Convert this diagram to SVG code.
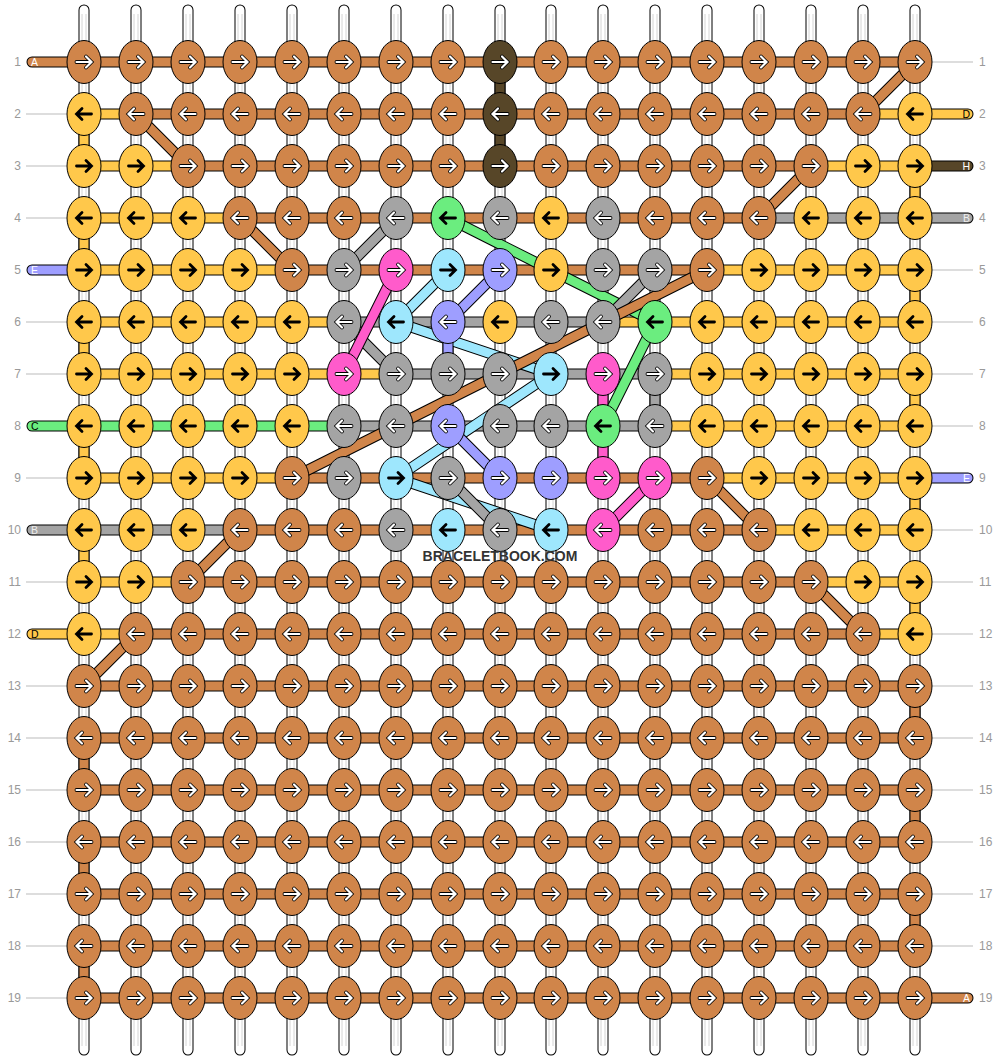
<svg xmlns="http://www.w3.org/2000/svg" xmlns:xlink="http://www.w3.org/1999/xlink" width="1000" height="1060" viewBox="0 0 1000 1060">
<style>
.o{fill:none;stroke:#000;stroke-width:11;stroke-linecap:round;stroke-linejoin:round}
.s{fill:none;stroke-width:9;stroke-linecap:round;stroke-linejoin:round}
.sA{stroke:#d0854a}.sD{stroke:#ffc84b}.sH{stroke:#574628}.sB{stroke:#a4a4a4}.sE{stroke:#9e9eff}.sC{stroke:#6bed7f}.sF{stroke:#ff5bcb}.sG{stroke:#9ee7fd}
.kA{fill:#d0854a}.kD{fill:#ffc84b}.kH{fill:#574628}.kB{fill:#a4a4a4}.kE{fill:#9e9eff}.kC{fill:#6bed7f}.kF{fill:#ff5bcb}.kG{fill:#9ee7fd}
ellipse{stroke:#000;stroke-width:1}
.ll{stroke:#bbb;stroke-width:1}
.rn{font-family:"Liberation Sans",Arial,sans-serif;font-size:12px;fill:#999}
.sl{font-family:"Liberation Sans",Arial,sans-serif;font-size:10.5px}
</style>
<defs>
<path id="ar" d="M-7.5 0H7M2 -5.5L7.5 0L2 5.5"/>
<path id="al" d="M7.5 0H-7M-2 -5.5L-7.5 0L-2 5.5"/>
<g id="rw" fill="none" stroke-linecap="round" stroke-linejoin="miter"><use href="#ar" stroke="#000" stroke-width="3.8"/><use href="#ar" stroke="#fff" stroke-width="2.2"/></g>
<g id="lw" fill="none" stroke-linecap="round" stroke-linejoin="miter"><use href="#al" stroke="#000" stroke-width="3.8"/><use href="#al" stroke="#fff" stroke-width="2.2"/></g>
<g id="rb" fill="none" stroke-linecap="round"><use href="#ar" stroke="#000" stroke-width="2.8"/></g>
<g id="lb" fill="none" stroke-linecap="round"><use href="#al" stroke="#000" stroke-width="2.8"/></g>
<g id="Ar"><ellipse class="kA" rx="17" ry="21.5"/><use href="#rw"/></g>
<g id="Al"><ellipse class="kA" rx="17" ry="21.5"/><use href="#lw"/></g>
<g id="Dr"><ellipse class="kD" rx="17" ry="21.5"/><use href="#rb"/></g>
<g id="Dl"><ellipse class="kD" rx="17" ry="21.5"/><use href="#lb"/></g>
<g id="Hr"><ellipse class="kH" rx="17" ry="21.5"/><use href="#rw"/></g>
<g id="Hl"><ellipse class="kH" rx="17" ry="21.5"/><use href="#lw"/></g>
<g id="Br"><ellipse class="kB" rx="17" ry="21.5"/><use href="#rw"/></g>
<g id="Bl"><ellipse class="kB" rx="17" ry="21.5"/><use href="#lw"/></g>
<g id="Er"><ellipse class="kE" rx="17" ry="21.5"/><use href="#rw"/></g>
<g id="El"><ellipse class="kE" rx="17" ry="21.5"/><use href="#lw"/></g>
<g id="Cl"><ellipse class="kC" rx="17" ry="21.5"/><use href="#lb"/></g>
<g id="Fr"><ellipse class="kF" rx="17" ry="21.5"/><use href="#rw"/></g>
<g id="Fl"><ellipse class="kF" rx="17" ry="21.5"/><use href="#lw"/></g>
<g id="Gr"><ellipse class="kG" rx="17" ry="21.5"/><use href="#rb"/></g>
<g id="Gl"><ellipse class="kG" rx="17" ry="21.5"/><use href="#lb"/></g>
<path id="hA" d="M32 62H915M136 114H863M188 166H811M240 218H759M292 270H707M292 478H707M240 530H759M188 582H811M136 634H863M84 686H915M84 738H915M84 790H915M84 842H915M84 894H915M84 946H915M84 998H968M915 686V738M84 738V790M915 790V842M84 842V894M915 894V946M84 946V998"/>
<path id="hD" d="M84 114H136M863 114H968M84 166H188M811 166H915M84 218H240M84 270H292M707 270H915M84 322H344M603 322H915M84 374H396M655 374H915M655 426H915M84 478H292M707 478H915M759 530H915M84 582H188M811 582H915M32 634H136M863 634H915M84 114V166M84 218V270M84 322V374M84 426V478M84 530V582M915 166V218M915 270V322M915 374V426M915 478V530M915 582V634"/>
<path id="hB" d="M759 218H968M344 322H603M396 374H655M344 426H655M32 530H240M655 374V426"/>
<path id="hC" d="M32 426H344"/>
<path id="hE" d="M32 270H84M915 478H968"/>
<path id="hH" d="M915 166H968M500 62V166"/>
<path id="hF" d="M603 374V478"/>
<path id="dG" d="M448 270L396 322M396 322L551 374L396 478L551 530"/>
<path id="dE" d="M500 270L448 322V374M448 426L500 478"/>
<path id="dC" d="M448 218L551 270L655 322L603 426"/>
<path id="dB" d="M396 218L344 270M655 270L603 322M344 322L396 374M448 478L500 530"/>
<path id="dF" d="M396 270L344 374M655 478L603 530"/>
<path id="dA" d="M915 62L863 114M136 114L188 166M811 166L759 218M240 218L292 270M707 270L292 478M707 478L759 530M240 530L188 582M811 582L863 634M136 634L84 686"/>
</defs>
<rect width="1000" height="1060" fill="#fff"/>
<g id="warps">
<path d="M84 10V1050M136 10V1050M188 10V1050M240 10V1050M292 10V1050M344 10V1050M396 10V1050M448 10V1050M500 10V1050M551 10V1050M603 10V1050M655 10V1050M707 10V1050M759 10V1050M811 10V1050M863 10V1050M915 10V1050" stroke="#000" stroke-width="11" stroke-linecap="round" fill="none"/>
<path d="M84 10V1050M136 10V1050M188 10V1050M240 10V1050M292 10V1050M344 10V1050M396 10V1050M448 10V1050M500 10V1050M551 10V1050M603 10V1050M655 10V1050M707 10V1050M759 10V1050M811 10V1050M863 10V1050M915 10V1050" stroke="#fff" stroke-width="9" stroke-linecap="round" fill="none"/>
<path d="M82 14V1046M86 14V1046M134 14V1046M138 14V1046M186 14V1046M190 14V1046M238 14V1046M242 14V1046M290 14V1046M294 14V1046M342 14V1046M346 14V1046M394 14V1046M398 14V1046M446 14V1046M450 14V1046M498 14V1046M502 14V1046M549 14V1046M553 14V1046M601 14V1046M605 14V1046M653 14V1046M657 14V1046M705 14V1046M709 14V1046M757 14V1046M761 14V1046M809 14V1046M813 14V1046M861 14V1046M865 14V1046M913 14V1046M917 14V1046" stroke="#d4d4d4" stroke-width="1" fill="none"/>
</g>
<g id="label-lines" class="ll">
<path d="M26 114H67M26 166H67M26 218H67M26 322H67M26 374H67M26 478H67M26 582H67M26 686H67M26 738H67M26 790H67M26 842H67M26 894H67M26 946H67M26 998H67M932 62H973M932 270H973M932 322H973M932 374H973M932 426H973M932 530H973M932 582H973M932 634H973M932 686H973M932 738H973M932 790H973M932 842H973M932 894H973M932 946H973"/>
</g>
<g id="connectors">
<use href="#hA" class="o"/><use href="#hD" class="o"/><use href="#hB" class="o"/><use href="#hC" class="o"/><use href="#hE" class="o"/><use href="#hH" class="o"/><use href="#hF" class="o"/>
<use href="#hA" class="s sA"/><use href="#hD" class="s sD"/><use href="#hB" class="s sB"/><use href="#hC" class="s sC"/><use href="#hE" class="s sE"/><use href="#hH" class="s sH"/><use href="#hF" class="s sF"/>
<use href="#dG" class="o"/><use href="#dG" class="s sG"/>
<use href="#dE" class="o"/><use href="#dE" class="s sE"/>
<use href="#dC" class="o"/><use href="#dC" class="s sC"/>
<use href="#dB" class="o"/><use href="#dB" class="s sB"/>
<use href="#dF" class="o"/><use href="#dF" class="s sF"/>
<use href="#dA" class="o"/><use href="#dA" class="s sA"/>
</g>
<g id="nodes">
<g id="n1-1"><use href="#Ar" x="84" y="62"/></g><g id="n1-2"><use href="#Ar" x="136" y="62"/></g><g id="n1-3"><use href="#Ar" x="188" y="62"/></g><g id="n1-4"><use href="#Ar" x="240" y="62"/></g><g id="n1-5"><use href="#Ar" x="292" y="62"/></g><g id="n1-6"><use href="#Ar" x="344" y="62"/></g><g id="n1-7"><use href="#Ar" x="396" y="62"/></g><g id="n1-8"><use href="#Ar" x="448" y="62"/></g><g id="n1-9"><use href="#Hr" x="500" y="62"/></g><g id="n1-10"><use href="#Ar" x="551" y="62"/></g><g id="n1-11"><use href="#Ar" x="603" y="62"/></g><g id="n1-12"><use href="#Ar" x="655" y="62"/></g><g id="n1-13"><use href="#Ar" x="707" y="62"/></g><g id="n1-14"><use href="#Ar" x="759" y="62"/></g><g id="n1-15"><use href="#Ar" x="811" y="62"/></g><g id="n1-16"><use href="#Ar" x="863" y="62"/></g><g id="n1-17"><use href="#Ar" x="915" y="62"/></g>
<g id="n2-1"><use href="#Dl" x="84" y="114"/></g><g id="n2-2"><use href="#Al" x="136" y="114"/></g><g id="n2-3"><use href="#Al" x="188" y="114"/></g><g id="n2-4"><use href="#Al" x="240" y="114"/></g><g id="n2-5"><use href="#Al" x="292" y="114"/></g><g id="n2-6"><use href="#Al" x="344" y="114"/></g><g id="n2-7"><use href="#Al" x="396" y="114"/></g><g id="n2-8"><use href="#Al" x="448" y="114"/></g><g id="n2-9"><use href="#Hl" x="500" y="114"/></g><g id="n2-10"><use href="#Al" x="551" y="114"/></g><g id="n2-11"><use href="#Al" x="603" y="114"/></g><g id="n2-12"><use href="#Al" x="655" y="114"/></g><g id="n2-13"><use href="#Al" x="707" y="114"/></g><g id="n2-14"><use href="#Al" x="759" y="114"/></g><g id="n2-15"><use href="#Al" x="811" y="114"/></g><g id="n2-16"><use href="#Al" x="863" y="114"/></g><g id="n2-17"><use href="#Dl" x="915" y="114"/></g>
<g id="n3-1"><use href="#Dr" x="84" y="166"/></g><g id="n3-2"><use href="#Dr" x="136" y="166"/></g><g id="n3-3"><use href="#Ar" x="188" y="166"/></g><g id="n3-4"><use href="#Ar" x="240" y="166"/></g><g id="n3-5"><use href="#Ar" x="292" y="166"/></g><g id="n3-6"><use href="#Ar" x="344" y="166"/></g><g id="n3-7"><use href="#Ar" x="396" y="166"/></g><g id="n3-8"><use href="#Ar" x="448" y="166"/></g><g id="n3-9"><use href="#Hr" x="500" y="166"/></g><g id="n3-10"><use href="#Ar" x="551" y="166"/></g><g id="n3-11"><use href="#Ar" x="603" y="166"/></g><g id="n3-12"><use href="#Ar" x="655" y="166"/></g><g id="n3-13"><use href="#Ar" x="707" y="166"/></g><g id="n3-14"><use href="#Ar" x="759" y="166"/></g><g id="n3-15"><use href="#Ar" x="811" y="166"/></g><g id="n3-16"><use href="#Dr" x="863" y="166"/></g><g id="n3-17"><use href="#Dr" x="915" y="166"/></g>
<g id="n4-1"><use href="#Dl" x="84" y="218"/></g><g id="n4-2"><use href="#Dl" x="136" y="218"/></g><g id="n4-3"><use href="#Dl" x="188" y="218"/></g><g id="n4-4"><use href="#Al" x="240" y="218"/></g><g id="n4-5"><use href="#Al" x="292" y="218"/></g><g id="n4-6"><use href="#Al" x="344" y="218"/></g><g id="n4-7"><use href="#Bl" x="396" y="218"/></g><g id="n4-8"><use href="#Cl" x="448" y="218"/></g><g id="n4-9"><use href="#Bl" x="500" y="218"/></g><g id="n4-10"><use href="#Dl" x="551" y="218"/></g><g id="n4-11"><use href="#Bl" x="603" y="218"/></g><g id="n4-12"><use href="#Al" x="655" y="218"/></g><g id="n4-13"><use href="#Al" x="707" y="218"/></g><g id="n4-14"><use href="#Al" x="759" y="218"/></g><g id="n4-15"><use href="#Dl" x="811" y="218"/></g><g id="n4-16"><use href="#Dl" x="863" y="218"/></g><g id="n4-17"><use href="#Dl" x="915" y="218"/></g>
<g id="n5-1"><use href="#Dr" x="84" y="270"/></g><g id="n5-2"><use href="#Dr" x="136" y="270"/></g><g id="n5-3"><use href="#Dr" x="188" y="270"/></g><g id="n5-4"><use href="#Dr" x="240" y="270"/></g><g id="n5-5"><use href="#Ar" x="292" y="270"/></g><g id="n5-6"><use href="#Br" x="344" y="270"/></g><g id="n5-7"><use href="#Fr" x="396" y="270"/></g><g id="n5-8"><use href="#Gr" x="448" y="270"/></g><g id="n5-9"><use href="#Er" x="500" y="270"/></g><g id="n5-10"><use href="#Dr" x="551" y="270"/></g><g id="n5-11"><use href="#Br" x="603" y="270"/></g><g id="n5-12"><use href="#Br" x="655" y="270"/></g><g id="n5-13"><use href="#Ar" x="707" y="270"/></g><g id="n5-14"><use href="#Dr" x="759" y="270"/></g><g id="n5-15"><use href="#Dr" x="811" y="270"/></g><g id="n5-16"><use href="#Dr" x="863" y="270"/></g><g id="n5-17"><use href="#Dr" x="915" y="270"/></g>
<g id="n6-1"><use href="#Dl" x="84" y="322"/></g><g id="n6-2"><use href="#Dl" x="136" y="322"/></g><g id="n6-3"><use href="#Dl" x="188" y="322"/></g><g id="n6-4"><use href="#Dl" x="240" y="322"/></g><g id="n6-5"><use href="#Dl" x="292" y="322"/></g><g id="n6-6"><use href="#Bl" x="344" y="322"/></g><g id="n6-7"><use href="#Gl" x="396" y="322"/></g><g id="n6-8"><use href="#El" x="448" y="322"/></g><g id="n6-9"><use href="#Dl" x="500" y="322"/></g><g id="n6-10"><use href="#Bl" x="551" y="322"/></g><g id="n6-11"><use href="#Bl" x="603" y="322"/></g><g id="n6-12"><use href="#Cl" x="655" y="322"/></g><g id="n6-13"><use href="#Dl" x="707" y="322"/></g><g id="n6-14"><use href="#Dl" x="759" y="322"/></g><g id="n6-15"><use href="#Dl" x="811" y="322"/></g><g id="n6-16"><use href="#Dl" x="863" y="322"/></g><g id="n6-17"><use href="#Dl" x="915" y="322"/></g>
<g id="n7-1"><use href="#Dr" x="84" y="374"/></g><g id="n7-2"><use href="#Dr" x="136" y="374"/></g><g id="n7-3"><use href="#Dr" x="188" y="374"/></g><g id="n7-4"><use href="#Dr" x="240" y="374"/></g><g id="n7-5"><use href="#Dr" x="292" y="374"/></g><g id="n7-6"><use href="#Fr" x="344" y="374"/></g><g id="n7-7"><use href="#Br" x="396" y="374"/></g><g id="n7-8"><use href="#Br" x="448" y="374"/></g><g id="n7-9"><use href="#Br" x="500" y="374"/></g><g id="n7-10"><use href="#Gr" x="551" y="374"/></g><g id="n7-11"><use href="#Fr" x="603" y="374"/></g><g id="n7-12"><use href="#Br" x="655" y="374"/></g><g id="n7-13"><use href="#Dr" x="707" y="374"/></g><g id="n7-14"><use href="#Dr" x="759" y="374"/></g><g id="n7-15"><use href="#Dr" x="811" y="374"/></g><g id="n7-16"><use href="#Dr" x="863" y="374"/></g><g id="n7-17"><use href="#Dr" x="915" y="374"/></g>
<g id="n8-1"><use href="#Dl" x="84" y="426"/></g><g id="n8-2"><use href="#Dl" x="136" y="426"/></g><g id="n8-3"><use href="#Dl" x="188" y="426"/></g><g id="n8-4"><use href="#Dl" x="240" y="426"/></g><g id="n8-5"><use href="#Dl" x="292" y="426"/></g><g id="n8-6"><use href="#Bl" x="344" y="426"/></g><g id="n8-7"><use href="#Bl" x="396" y="426"/></g><g id="n8-8"><use href="#El" x="448" y="426"/></g><g id="n8-9"><use href="#Bl" x="500" y="426"/></g><g id="n8-10"><use href="#Bl" x="551" y="426"/></g><g id="n8-11"><use href="#Cl" x="603" y="426"/></g><g id="n8-12"><use href="#Bl" x="655" y="426"/></g><g id="n8-13"><use href="#Dl" x="707" y="426"/></g><g id="n8-14"><use href="#Dl" x="759" y="426"/></g><g id="n8-15"><use href="#Dl" x="811" y="426"/></g><g id="n8-16"><use href="#Dl" x="863" y="426"/></g><g id="n8-17"><use href="#Dl" x="915" y="426"/></g>
<g id="n9-1"><use href="#Dr" x="84" y="478"/></g><g id="n9-2"><use href="#Dr" x="136" y="478"/></g><g id="n9-3"><use href="#Dr" x="188" y="478"/></g><g id="n9-4"><use href="#Dr" x="240" y="478"/></g><g id="n9-5"><use href="#Ar" x="292" y="478"/></g><g id="n9-6"><use href="#Br" x="344" y="478"/></g><g id="n9-7"><use href="#Gr" x="396" y="478"/></g><g id="n9-8"><use href="#Br" x="448" y="478"/></g><g id="n9-9"><use href="#Er" x="500" y="478"/></g><g id="n9-10"><use href="#Er" x="551" y="478"/></g><g id="n9-11"><use href="#Fr" x="603" y="478"/></g><g id="n9-12"><use href="#Fr" x="655" y="478"/></g><g id="n9-13"><use href="#Ar" x="707" y="478"/></g><g id="n9-14"><use href="#Dr" x="759" y="478"/></g><g id="n9-15"><use href="#Dr" x="811" y="478"/></g><g id="n9-16"><use href="#Dr" x="863" y="478"/></g><g id="n9-17"><use href="#Dr" x="915" y="478"/></g>
<g id="n10-1"><use href="#Dl" x="84" y="530"/></g><g id="n10-2"><use href="#Dl" x="136" y="530"/></g><g id="n10-3"><use href="#Dl" x="188" y="530"/></g><g id="n10-4"><use href="#Al" x="240" y="530"/></g><g id="n10-5"><use href="#Al" x="292" y="530"/></g><g id="n10-6"><use href="#Al" x="344" y="530"/></g><g id="n10-7"><use href="#Bl" x="396" y="530"/></g><g id="n10-8"><use href="#Gl" x="448" y="530"/></g><g id="n10-9"><use href="#Bl" x="500" y="530"/></g><g id="n10-10"><use href="#Gl" x="551" y="530"/></g><g id="n10-11"><use href="#Fl" x="603" y="530"/></g><g id="n10-12"><use href="#Al" x="655" y="530"/></g><g id="n10-13"><use href="#Al" x="707" y="530"/></g><g id="n10-14"><use href="#Al" x="759" y="530"/></g><g id="n10-15"><use href="#Dl" x="811" y="530"/></g><g id="n10-16"><use href="#Dl" x="863" y="530"/></g><g id="n10-17"><use href="#Dl" x="915" y="530"/></g>
<g id="n11-1"><use href="#Dr" x="84" y="582"/></g><g id="n11-2"><use href="#Dr" x="136" y="582"/></g><g id="n11-3"><use href="#Ar" x="188" y="582"/></g><g id="n11-4"><use href="#Ar" x="240" y="582"/></g><g id="n11-5"><use href="#Ar" x="292" y="582"/></g><g id="n11-6"><use href="#Ar" x="344" y="582"/></g><g id="n11-7"><use href="#Ar" x="396" y="582"/></g><g id="n11-8"><use href="#Ar" x="448" y="582"/></g><g id="n11-9"><use href="#Ar" x="500" y="582"/></g><g id="n11-10"><use href="#Ar" x="551" y="582"/></g><g id="n11-11"><use href="#Ar" x="603" y="582"/></g><g id="n11-12"><use href="#Ar" x="655" y="582"/></g><g id="n11-13"><use href="#Ar" x="707" y="582"/></g><g id="n11-14"><use href="#Ar" x="759" y="582"/></g><g id="n11-15"><use href="#Ar" x="811" y="582"/></g><g id="n11-16"><use href="#Dr" x="863" y="582"/></g><g id="n11-17"><use href="#Dr" x="915" y="582"/></g>
<g id="n12-1"><use href="#Dl" x="84" y="634"/></g><g id="n12-2"><use href="#Al" x="136" y="634"/></g><g id="n12-3"><use href="#Al" x="188" y="634"/></g><g id="n12-4"><use href="#Al" x="240" y="634"/></g><g id="n12-5"><use href="#Al" x="292" y="634"/></g><g id="n12-6"><use href="#Al" x="344" y="634"/></g><g id="n12-7"><use href="#Al" x="396" y="634"/></g><g id="n12-8"><use href="#Al" x="448" y="634"/></g><g id="n12-9"><use href="#Al" x="500" y="634"/></g><g id="n12-10"><use href="#Al" x="551" y="634"/></g><g id="n12-11"><use href="#Al" x="603" y="634"/></g><g id="n12-12"><use href="#Al" x="655" y="634"/></g><g id="n12-13"><use href="#Al" x="707" y="634"/></g><g id="n12-14"><use href="#Al" x="759" y="634"/></g><g id="n12-15"><use href="#Al" x="811" y="634"/></g><g id="n12-16"><use href="#Al" x="863" y="634"/></g><g id="n12-17"><use href="#Dl" x="915" y="634"/></g>
<g id="n13-1"><use href="#Ar" x="84" y="686"/></g><g id="n13-2"><use href="#Ar" x="136" y="686"/></g><g id="n13-3"><use href="#Ar" x="188" y="686"/></g><g id="n13-4"><use href="#Ar" x="240" y="686"/></g><g id="n13-5"><use href="#Ar" x="292" y="686"/></g><g id="n13-6"><use href="#Ar" x="344" y="686"/></g><g id="n13-7"><use href="#Ar" x="396" y="686"/></g><g id="n13-8"><use href="#Ar" x="448" y="686"/></g><g id="n13-9"><use href="#Ar" x="500" y="686"/></g><g id="n13-10"><use href="#Ar" x="551" y="686"/></g><g id="n13-11"><use href="#Ar" x="603" y="686"/></g><g id="n13-12"><use href="#Ar" x="655" y="686"/></g><g id="n13-13"><use href="#Ar" x="707" y="686"/></g><g id="n13-14"><use href="#Ar" x="759" y="686"/></g><g id="n13-15"><use href="#Ar" x="811" y="686"/></g><g id="n13-16"><use href="#Ar" x="863" y="686"/></g><g id="n13-17"><use href="#Ar" x="915" y="686"/></g>
<g id="n14-1"><use href="#Al" x="84" y="738"/></g><g id="n14-2"><use href="#Al" x="136" y="738"/></g><g id="n14-3"><use href="#Al" x="188" y="738"/></g><g id="n14-4"><use href="#Al" x="240" y="738"/></g><g id="n14-5"><use href="#Al" x="292" y="738"/></g><g id="n14-6"><use href="#Al" x="344" y="738"/></g><g id="n14-7"><use href="#Al" x="396" y="738"/></g><g id="n14-8"><use href="#Al" x="448" y="738"/></g><g id="n14-9"><use href="#Al" x="500" y="738"/></g><g id="n14-10"><use href="#Al" x="551" y="738"/></g><g id="n14-11"><use href="#Al" x="603" y="738"/></g><g id="n14-12"><use href="#Al" x="655" y="738"/></g><g id="n14-13"><use href="#Al" x="707" y="738"/></g><g id="n14-14"><use href="#Al" x="759" y="738"/></g><g id="n14-15"><use href="#Al" x="811" y="738"/></g><g id="n14-16"><use href="#Al" x="863" y="738"/></g><g id="n14-17"><use href="#Al" x="915" y="738"/></g>
<g id="n15-1"><use href="#Ar" x="84" y="790"/></g><g id="n15-2"><use href="#Ar" x="136" y="790"/></g><g id="n15-3"><use href="#Ar" x="188" y="790"/></g><g id="n15-4"><use href="#Ar" x="240" y="790"/></g><g id="n15-5"><use href="#Ar" x="292" y="790"/></g><g id="n15-6"><use href="#Ar" x="344" y="790"/></g><g id="n15-7"><use href="#Ar" x="396" y="790"/></g><g id="n15-8"><use href="#Ar" x="448" y="790"/></g><g id="n15-9"><use href="#Ar" x="500" y="790"/></g><g id="n15-10"><use href="#Ar" x="551" y="790"/></g><g id="n15-11"><use href="#Ar" x="603" y="790"/></g><g id="n15-12"><use href="#Ar" x="655" y="790"/></g><g id="n15-13"><use href="#Ar" x="707" y="790"/></g><g id="n15-14"><use href="#Ar" x="759" y="790"/></g><g id="n15-15"><use href="#Ar" x="811" y="790"/></g><g id="n15-16"><use href="#Ar" x="863" y="790"/></g><g id="n15-17"><use href="#Ar" x="915" y="790"/></g>
<g id="n16-1"><use href="#Al" x="84" y="842"/></g><g id="n16-2"><use href="#Al" x="136" y="842"/></g><g id="n16-3"><use href="#Al" x="188" y="842"/></g><g id="n16-4"><use href="#Al" x="240" y="842"/></g><g id="n16-5"><use href="#Al" x="292" y="842"/></g><g id="n16-6"><use href="#Al" x="344" y="842"/></g><g id="n16-7"><use href="#Al" x="396" y="842"/></g><g id="n16-8"><use href="#Al" x="448" y="842"/></g><g id="n16-9"><use href="#Al" x="500" y="842"/></g><g id="n16-10"><use href="#Al" x="551" y="842"/></g><g id="n16-11"><use href="#Al" x="603" y="842"/></g><g id="n16-12"><use href="#Al" x="655" y="842"/></g><g id="n16-13"><use href="#Al" x="707" y="842"/></g><g id="n16-14"><use href="#Al" x="759" y="842"/></g><g id="n16-15"><use href="#Al" x="811" y="842"/></g><g id="n16-16"><use href="#Al" x="863" y="842"/></g><g id="n16-17"><use href="#Al" x="915" y="842"/></g>
<g id="n17-1"><use href="#Ar" x="84" y="894"/></g><g id="n17-2"><use href="#Ar" x="136" y="894"/></g><g id="n17-3"><use href="#Ar" x="188" y="894"/></g><g id="n17-4"><use href="#Ar" x="240" y="894"/></g><g id="n17-5"><use href="#Ar" x="292" y="894"/></g><g id="n17-6"><use href="#Ar" x="344" y="894"/></g><g id="n17-7"><use href="#Ar" x="396" y="894"/></g><g id="n17-8"><use href="#Ar" x="448" y="894"/></g><g id="n17-9"><use href="#Ar" x="500" y="894"/></g><g id="n17-10"><use href="#Ar" x="551" y="894"/></g><g id="n17-11"><use href="#Ar" x="603" y="894"/></g><g id="n17-12"><use href="#Ar" x="655" y="894"/></g><g id="n17-13"><use href="#Ar" x="707" y="894"/></g><g id="n17-14"><use href="#Ar" x="759" y="894"/></g><g id="n17-15"><use href="#Ar" x="811" y="894"/></g><g id="n17-16"><use href="#Ar" x="863" y="894"/></g><g id="n17-17"><use href="#Ar" x="915" y="894"/></g>
<g id="n18-1"><use href="#Al" x="84" y="946"/></g><g id="n18-2"><use href="#Al" x="136" y="946"/></g><g id="n18-3"><use href="#Al" x="188" y="946"/></g><g id="n18-4"><use href="#Al" x="240" y="946"/></g><g id="n18-5"><use href="#Al" x="292" y="946"/></g><g id="n18-6"><use href="#Al" x="344" y="946"/></g><g id="n18-7"><use href="#Al" x="396" y="946"/></g><g id="n18-8"><use href="#Al" x="448" y="946"/></g><g id="n18-9"><use href="#Al" x="500" y="946"/></g><g id="n18-10"><use href="#Al" x="551" y="946"/></g><g id="n18-11"><use href="#Al" x="603" y="946"/></g><g id="n18-12"><use href="#Al" x="655" y="946"/></g><g id="n18-13"><use href="#Al" x="707" y="946"/></g><g id="n18-14"><use href="#Al" x="759" y="946"/></g><g id="n18-15"><use href="#Al" x="811" y="946"/></g><g id="n18-16"><use href="#Al" x="863" y="946"/></g><g id="n18-17"><use href="#Al" x="915" y="946"/></g>
<g id="n19-1"><use href="#Ar" x="84" y="998"/></g><g id="n19-2"><use href="#Ar" x="136" y="998"/></g><g id="n19-3"><use href="#Ar" x="188" y="998"/></g><g id="n19-4"><use href="#Ar" x="240" y="998"/></g><g id="n19-5"><use href="#Ar" x="292" y="998"/></g><g id="n19-6"><use href="#Ar" x="344" y="998"/></g><g id="n19-7"><use href="#Ar" x="396" y="998"/></g><g id="n19-8"><use href="#Ar" x="448" y="998"/></g><g id="n19-9"><use href="#Ar" x="500" y="998"/></g><g id="n19-10"><use href="#Ar" x="551" y="998"/></g><g id="n19-11"><use href="#Ar" x="603" y="998"/></g><g id="n19-12"><use href="#Ar" x="655" y="998"/></g><g id="n19-13"><use href="#Ar" x="707" y="998"/></g><g id="n19-14"><use href="#Ar" x="759" y="998"/></g><g id="n19-15"><use href="#Ar" x="811" y="998"/></g><g id="n19-16"><use href="#Ar" x="863" y="998"/></g><g id="n19-17"><use href="#Ar" x="915" y="998"/></g>
</g>
<g id="row-numbers" class="rn">
<g text-anchor="end">
<text x="21" y="66">1</text><text x="21" y="118">2</text><text x="21" y="170">3</text><text x="21" y="222">4</text><text x="21" y="274">5</text><text x="21" y="326">6</text><text x="21" y="378">7</text><text x="21" y="430">8</text><text x="21" y="482">9</text><text x="21" y="534">10</text><text x="21" y="586">11</text><text x="21" y="638">12</text><text x="21" y="690">13</text><text x="21" y="742">14</text><text x="21" y="794">15</text><text x="21" y="846">16</text><text x="21" y="898">17</text><text x="21" y="950">18</text><text x="21" y="1002">19</text>
</g>
<g text-anchor="start">
<text x="979" y="66">1</text><text x="979" y="118">2</text><text x="979" y="170">3</text><text x="979" y="222">4</text><text x="979" y="274">5</text><text x="979" y="326">6</text><text x="979" y="378">7</text><text x="979" y="430">8</text><text x="979" y="482">9</text><text x="979" y="534">10</text><text x="979" y="586">11</text><text x="979" y="638">12</text><text x="979" y="690">13</text><text x="979" y="742">14</text><text x="979" y="794">15</text><text x="979" y="846">16</text><text x="979" y="898">17</text><text x="979" y="950">18</text><text x="979" y="1002">19</text>
</g>
</g>
<g id="string-labels" class="sl">
<text x="31" y="66" fill="#fff">A</text><text x="31" y="274" fill="#fff">E</text><text x="31" y="430" fill="#000">C</text><text x="31" y="534" fill="#eee">B</text><text x="31" y="638" fill="#000">D</text>
<g text-anchor="end"><text x="970" y="118" fill="#000">D</text><text x="970" y="170" fill="#fff">H</text><text x="970" y="222" fill="#eee">B</text><text x="970" y="482" fill="#fff">E</text><text x="970" y="1002" fill="#fff">A</text></g>
</g>
<text id="watermark" x="500" y="561" text-anchor="middle" font-family="'Liberation Sans',Arial,sans-serif" font-weight="bold" font-size="14" fill="#333">BRACELETBOOK.COM</text>
</svg>
